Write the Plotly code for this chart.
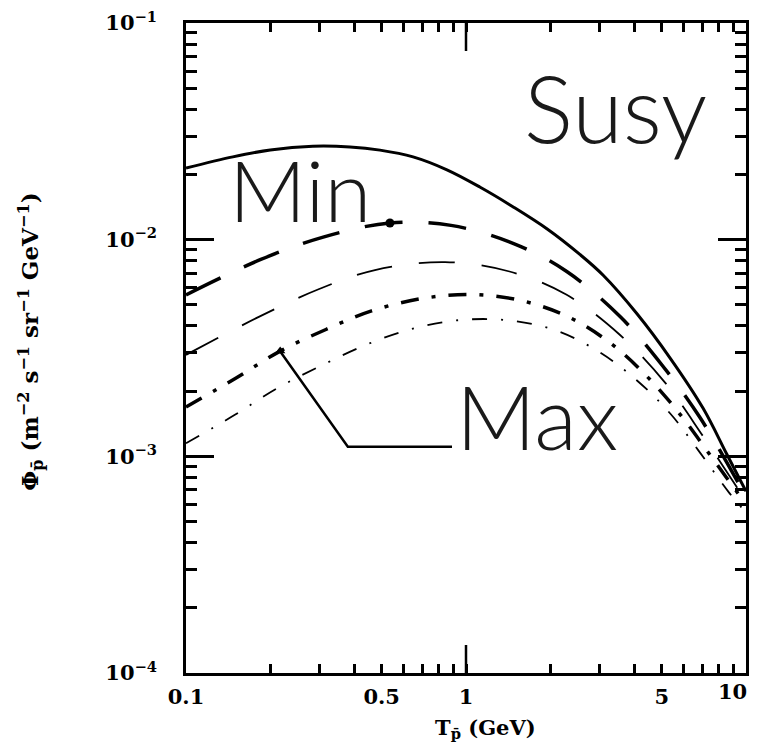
import plotly.graph_objects as go

# ---- data ----
solid_x = [0.1, 0.147, 0.2, 0.284, 0.385, 0.493, 0.647, 0.855, 1.12, 1.47, 1.95, 2.55, 3.09, 4.08, 5.35, 7.02, 8.55, 10]
solid_y = [0.0214, 0.0241, 0.02595, 0.0270, 0.0268, 0.0259, 0.0241, 0.0210, 0.0175, 0.0142, 0.0112, 0.00855, 0.00685, 0.00455, 0.00285, 0.00167, 0.00102, 0.00069]

min_x = [0.1, 0.185, 0.309, 0.535, 0.884, 1.48, 2.29, 3.55, 5.01, 6.85, 10]
min_y = [0.00556, 0.0081, 0.01028, 0.01194, 0.01164, 0.0096, 0.00713, 0.00442, 0.00264, 0.00151, 0.00065]

thin_dash_x = [0.1, 0.182, 0.296, 0.473, 0.842, 1.43, 2.28, 3.55, 5.14, 7.02, 10]
thin_dash_y = [0.00294, 0.0044, 0.00589, 0.00724, 0.00788, 0.00713, 0.00558, 0.00363, 0.00219, 0.00124, 0.00062]

max_x = [0.1, 0.151, 0.217, 0.316, 0.46, 0.697, 1.05, 1.58, 2.34, 3.31, 4.5, 5.89, 7.5, 10]
max_y = [0.00169, 0.0023, 0.00306, 0.00385, 0.00469, 0.00535, 0.00558, 0.00523, 0.00438, 0.0033, 0.00229, 0.00153, 0.0010, 0.0006]

thin_dd_x = [0.1, 0.149, 0.21, 0.30, 0.434, 0.631, 0.944, 1.40, 2.07, 2.97, 4.08, 5.4, 6.85, 8.7, 10]
thin_dd_y = [0.00115, 0.00155, 0.00205, 0.0026, 0.00325, 0.00385, 0.00425, 0.00425, 0.00383, 0.00305, 0.00224, 0.00156, 0.00104, 0.00068, 0.00055]

x_tick_vals = [0.1, 0.5, 1, 5, 10]
x_tick_text = ["0.1", "0.5", "1", "5", ""]
x_last_label = "10"   # drawn right-aligned at the axis end so it is not clipped
x_minor_vals = [0.2, 0.3, 0.4, 0.6, 0.7, 0.8, 0.9, 2, 3, 4, 6, 7, 8, 9]
y_tick_vals = [1e-4, 1e-3, 1e-2, 1e-1]
y_tick_text = ["10<sup>−4</sup>", "10<sup>−3</sup>", "10<sup>−2</sup>", "10<sup>−1</sup>"]
y_minor_vals = [m * 10.0 ** e for e in (-4, -3, -2) for m in range(2, 10)]

MIN_IDX = 3   # point on the "Min" curve marked with a dot
MAX_IDX = 2   # point on the "Max" curve where the leader starts

fig = go.Figure()

def curve(x, y, width, dash):
    fig.add_trace(go.Scatter(x=x, y=y, mode="lines",
                             line=dict(color="black", width=width, dash=dash, shape="spline", smoothing=1.0),
                             showlegend=False, hoverinfo="skip"))

curve(solid_x, solid_y, 3, "solid")
curve(min_x, min_y, 3.5, "38px,26px")
curve(thin_dash_x, thin_dash_y, 1.8, "36px,27px")
curve(max_x, max_y, 3.5, "18px,13px,4px,13px")
curve(thin_dd_x, thin_dd_y, 1.8, "15px,14px,2px,14px")

fig.add_trace(go.Scatter(x=[min_x[MIN_IDX]], y=[min_y[MIN_IDX]], mode="markers",
                         marker=dict(color="black", size=9), showlegend=False, hoverinfo="skip"))
fig.add_trace(go.Scatter(x=[max_x[MAX_IDX]], y=[max_y[MAX_IDX]], mode="markers",
                         marker=dict(color="black", size=9, symbol="triangle-up"), showlegend=False, hoverinfo="skip"))

tick_font = dict(family="DejaVu Serif", size=21, color="black", weight="bold")

fig.update_xaxes(type="log", range=[-1, 1], showline=True, linewidth=2.5, linecolor="black",
                 mirror="ticks", ticks="inside", ticklen=9, tickwidth=2.5, tickcolor="black",
                 tickvals=x_tick_vals, ticktext=x_tick_text, tickfont=tick_font,
                 minor=dict(tickvals=x_minor_vals, ticks="inside", ticklen=9, tickwidth=2.5, tickcolor="black"),
                 showgrid=False, zeroline=False, ticklabelstandoff=3, ticklabeloverflow="allow",
                 automargin=False)
fig.update_yaxes(type="log", range=[-4, -1], showline=True, linewidth=2.5, linecolor="black",
                 mirror="ticks", ticks="inside", ticklen=28, tickwidth=2.5, tickcolor="black",
                 tickvals=y_tick_vals, ticktext=y_tick_text, tickfont=tick_font,
                 minor=dict(tickvals=y_minor_vals, ticks="inside", ticklen=11, tickwidth=2.5, tickcolor="black"),
                 showgrid=False, zeroline=False, ticklabelstandoff=22, ticklabeloverflow="allow",
                 automargin=False)

fig.add_annotation(text=x_last_label, xref="paper", yref="paper", x=1.006, y=-0.028,
                   showarrow=False, xanchor="right", yanchor="middle", font=tick_font)

# long ticks at T = 1 GeV (bottom and top)
L = 28 / 650
fig.add_shape(type="line", xref="paper", yref="paper", x0=0.5, x1=0.5, y0=0, y1=L, line=dict(color="black", width=2.5))
fig.add_shape(type="line", xref="paper", yref="paper", x0=0.5, x1=0.5, y0=1 - L, y1=1, line=dict(color="black", width=2.5))

# leader for "Max"
fig.add_shape(type="path", xref="paper", yref="paper",
              path="M 0.168 0.495 L 0.289 0.348 L 0.475 0.348",
              line=dict(color="black", width=2.5))

hand = dict(family="Lato", color="#1a1a1a", weight=300)
fig.add_annotation(text="Susy", xref="paper", yref="paper", x=0.767, y=0.870, showarrow=False,
                   xanchor="center", yanchor="middle", font=dict(size=92, **hand))
fig.add_annotation(text="Min", xref="paper", yref="paper", x=0.203, y=0.745, showarrow=False,
                   xanchor="center", yanchor="middle", font=dict(size=85, **hand))
fig.add_annotation(text="Max", xref="paper", yref="paper", x=0.626, y=0.396, showarrow=False,
                   xanchor="center", yanchor="middle", font=dict(size=88, **hand))

fig.add_annotation(text="T<sub>p̄</sub> (GeV)", xref="paper", yref="paper", x=0.534, y=-0.085,
                   showarrow=False, xanchor="center", yanchor="middle",
                   font=dict(family="DejaVu Serif", size=21, color="black", weight="bold"))
fig.add_annotation(text="Φ<sub>p̄</sub> (m<sup>−2</sup> s<sup>−1</sup> sr<sup>−1</sup> GeV<sup>−1</sup>)",
                   xref="paper", yref="paper", x=-0.278, y=0.51, textangle=-90,
                   showarrow=False, xanchor="center", yanchor="middle",
                   font=dict(family="DejaVu Serif", size=23, color="black", weight="bold"))

# page body adds an 8px margin; size the figure so the plot lands where the reference has it
fig.update_layout(width=751, height=734, margin=dict(l=178, r=13, t=15, b=69),
                  plot_bgcolor="white", paper_bgcolor="white")

fig.write_html("out.html")
